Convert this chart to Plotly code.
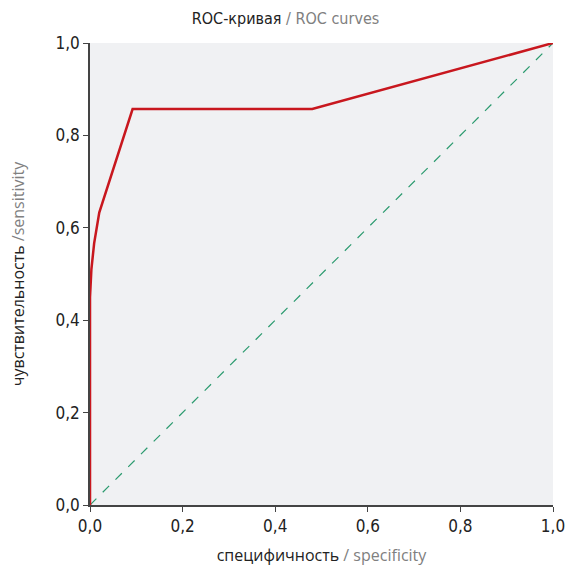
import plotly.graph_objects as go

fpr = [0.0, 0.0, 0.003, 0.009, 0.020, 0.092, 0.480, 1.0]
tpr = [0.0, 0.45, 0.51, 0.567, 0.633, 0.857, 0.857, 1.0]
diag = [0.0, 1.0]
tick_vals = [0.0, 0.2, 0.4, 0.6, 0.8, 1.0]

narrow = "Liberation Sans Narrow, DejaVu Sans Condensed, sans-serif"

fig = go.Figure()
fig.add_trace(go.Scatter(x=diag, y=diag, mode="lines",
                         line=dict(color="#2a9a6e", width=1.2, dash="dash"),
                         hoverinfo="skip", showlegend=False))
fig.add_trace(go.Scatter(x=fpr, y=tpr, mode="lines",
                         line=dict(color="#c8171e", width=2.5),
                         showlegend=False))

axis_common = dict(range=[0, 1], tickvals=tick_vals, tickformat=".1f",
                   showgrid=False, zeroline=False, showline=True,
                   linecolor="#444444", linewidth=1.5, ticks="outside",
                   ticklen=5, tickcolor="#444444", automargin=False,
                   tickfont=dict(family=narrow, size=17, color="#222222"))

fig.update_layout(
    width=571, height=566,
    margin=dict(l=90, r=18, t=43, b=61, autoexpand=False),
    paper_bgcolor="white", plot_bgcolor="#f0f1f3",
    separators=", ",
    title=dict(text="ROC-кривая <span style='color:#808080'>/ ROC curves</span>",
               x=0.5, xanchor="center", y=0.967, yanchor="middle",
               font=dict(family=narrow, size=16, color="#222222")),
    xaxis=dict(**axis_common,
               title=dict(text="специфичность <span style='color:#808080'>/ specificity</span>",
                          font=dict(family="Open Sans, sans-serif", size=16, color="#222222"),
                          standoff=18)),
    yaxis=dict(**axis_common,
               title=dict(text="чувствительность <span style='color:#808080'>/sensitivity</span>",
                          font=dict(family="Open Sans, sans-serif", size=16, color="#222222"),
                          standoff=27)),
)
fig.write_html("out.html", config={"displayModeBar": False},
               post_script="document.body.style.margin='0';document.body.style.overflow='hidden';")
